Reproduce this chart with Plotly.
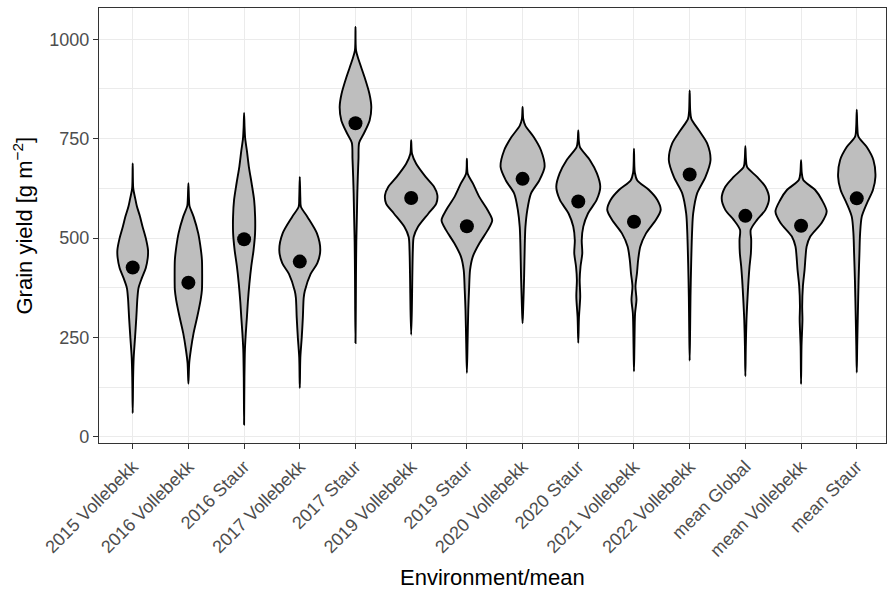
import plotly.graph_objects as go

# ---- data ----
environments = ["2015 Vollebekk", "2016 Vollebekk", "2016 Staur", "2017 Vollebekk",
                "2017 Staur", "2019 Vollebekk", "2019 Staur", "2020 Vollebekk",
                "2020 Staur", "2021 Vollebekk", "2022 Vollebekk", "mean Global",
                "mean Vollebekk", "mean Staur"]

mean_yield = [426, 388, 497, 441, 789, 601, 530, 649, 592, 541, 660, 556, 531, 600]

# violin profiles: yield values (g m-2) and scaled density half-width (category units)
v2015V_y = [60, 150, 200, 250, 300, 350, 375, 400, 425, 450, 470, 500, 530, 555, 580, 600, 625, 688]
v2015V_w = [0, 0.008, 0.018, 0.042, 0.065, 0.085, 0.105, 0.165, 0.235, 0.27, 0.275, 0.235, 0.175, 0.13, 0.075, 0.045, 0.01, 0]

v2016V_y = [134, 186, 220, 261, 303, 345, 370, 410, 445, 470, 512, 554, 581, 600, 638]
v2016V_w = [0, 0.015, 0.045, 0.093, 0.16, 0.22, 0.243, 0.247, 0.243, 0.225, 0.177, 0.093, 0.02, 0.01, 0]

v2016S_y = [31, 150, 220, 260, 300, 340, 385, 430, 470, 512, 554, 596, 638, 680, 720, 750, 780, 815]
v2016S_w = [0, 0.006, 0.015, 0.03, 0.05, 0.068, 0.095, 0.13, 0.17, 0.197, 0.198, 0.18, 0.135, 0.085, 0.05, 0.02, 0.008, 0]

v2017V_y = [123, 200, 250, 300, 350, 367, 410, 437, 470, 512, 554, 579, 600, 654]
v2017V_w = [0, 0.01, 0.035, 0.055, 0.07, 0.09, 0.195, 0.315, 0.368, 0.308, 0.135, 0.02, 0.01, 0]

v2017S_y = [236, 330, 410, 490, 530, 570, 612, 655, 700, 740, 763, 796, 830, 863, 905, 947, 972, 1031]
v2017S_w = [0, 0.006, 0.009, 0.015, 0.021, 0.027, 0.033, 0.042, 0.054, 0.066, 0.15, 0.254, 0.284, 0.25, 0.162, 0.06, 0.01, 0]

v2019V_y = [257, 320, 400, 470, 503, 528, 562, 587, 608, 629, 654, 687, 712, 746]
v2019V_w = [0, 0.012, 0.02, 0.03, 0.045, 0.12, 0.31, 0.45, 0.47, 0.41, 0.26, 0.09, 0.015, 0]

v2019S_y = [161, 236, 320, 370, 420, 453, 487, 520, 545, 570, 603, 637, 662, 700]
v2019S_w = [0, 0.012, 0.025, 0.039, 0.057, 0.105, 0.225, 0.374, 0.455, 0.374, 0.225, 0.11, 0.015, 0]

v2020V_y = [286, 320, 400, 487, 528, 570, 612, 645, 679, 721, 754, 783, 800, 830]
v2020V_w = [0, 0.01, 0.027, 0.04, 0.051, 0.084, 0.15, 0.3, 0.395, 0.33, 0.2, 0.05, 0.012, 0]

v2020S_y = [237, 300, 353, 395, 428, 462, 495, 529, 562, 596, 629, 663, 696, 729, 745, 771]
v2020S_w = [0, 0.012, 0.035, 0.025, 0.04, 0.072, 0.062, 0.09, 0.174, 0.33, 0.395, 0.335, 0.21, 0.03, 0.01, 0]

v2021V_y = [165, 230, 311, 345, 378, 412, 445, 479, 512, 546, 571, 596, 621, 645, 665, 725]
v2021V_w = [0, 0.008, 0.02, 0.045, 0.027, 0.054, 0.075, 0.114, 0.216, 0.395, 0.48, 0.42, 0.27, 0.06, 0.015, 0]

v2022V_y = [192, 269, 353, 437, 521, 562, 613, 654, 696, 738, 771, 800, 820, 871]
v2022V_w = [0, 0.008, 0.015, 0.027, 0.045, 0.063, 0.135, 0.284, 0.374, 0.314, 0.165, 0.03, 0.01, 0]

vmeanG_y = [153, 228, 295, 353, 395, 429, 462, 496, 521, 546, 571, 600, 629, 654, 679, 700, 731]
vmeanG_w = [0, 0.008, 0.02, 0.04, 0.057, 0.075, 0.099, 0.105, 0.096, 0.21, 0.36, 0.425, 0.36, 0.21, 0.03, 0.01, 0]

vmeanV_y = [133, 228, 295, 329, 379, 420, 454, 479, 504, 538, 567, 596, 621, 646, 665, 696]
vmeanV_w = [0, 0.008, 0.025, 0.02, 0.033, 0.063, 0.081, 0.1, 0.165, 0.368, 0.46, 0.374, 0.254, 0.04, 0.012, 0]

vmeanS_y = [162, 228, 311, 395, 462, 512, 554, 587, 621, 654, 696, 729, 755, 780, 823]
vmeanS_w = [0, 0.008, 0.02, 0.033, 0.048, 0.06, 0.09, 0.18, 0.29, 0.335, 0.3, 0.18, 0.03, 0.01, 0]

violin_y = [v2015V_y, v2016V_y, v2016S_y, v2017V_y, v2017S_y, v2019V_y, v2019S_y,
            v2020V_y, v2020S_y, v2021V_y, v2022V_y, vmeanG_y, vmeanV_y, vmeanS_y]
violin_w = [v2015V_w, v2016V_w, v2016S_w, v2017V_w, v2017S_w, v2019V_w, v2019S_w,
            v2020V_w, v2020S_w, v2021V_w, v2022V_w, vmeanG_w, vmeanV_w, vmeanS_w]

y_ticks = [0, 250, 500, 750, 1000]
y_minor = [125, 375, 625, 875]

x_title = "Environment/mean"
y_title = "Grain yield [g m<sup>\u22122</sup>]"

# ---- figure ----
fig = go.Figure()
positions = list(range(1, len(environments) + 1))

for pos, ys, ws in zip(positions, violin_y, violin_w):
    xs_right = [pos + w for w in ws]
    xs_left = [pos - w for w in ws[::-1]][1:]
    ys_left = ys[::-1][1:]
    fig.add_trace(go.Scatter(
        x=xs_right + xs_left, y=list(ys) + ys_left,
        mode="lines", fill="toself", fillcolor="#BEBEBE",
        line=dict(color="black", width=1.9, shape="spline", smoothing=0.8),
        hoverinfo="skip", showlegend=False))

fig.add_trace(go.Scatter(
    x=positions, y=mean_yield, mode="markers",
    marker=dict(color="black", size=14, line=dict(width=0)),
    showlegend=False))

axis_common = dict(
    showline=True, linecolor="#333333", linewidth=1.1, mirror=True,
    ticks="outside", ticklen=5, tickwidth=1.1, tickcolor="#333333",
    tickfont=dict(family="Liberation Sans, Arial, sans-serif", size=18, color="#4D4D4D"),
    gridcolor="#EBEBEB", gridwidth=1.3, zeroline=False, automargin=False,
)

fig.update_layout(
    width=887, height=589, autosize=False,
    margin=dict(l=99, r=1, t=8, b=146),
    paper_bgcolor="white", plot_bgcolor="white",
    font=dict(family="Liberation Sans, Arial, sans-serif", color="black"),
    xaxis=dict(
        range=[0.395, 14.525], tickmode="array", tickvals=positions, ticktext=environments,
        tickangle=-45, showgrid=True, **axis_common),
    yaxis=dict(
        range=[-15.1, 1078.6], tickmode="array", tickvals=y_ticks, showgrid=True,
        minor=dict(tickmode="array", tickvals=y_minor, showgrid=True,
                   gridcolor="#EBEBEB", gridwidth=0.8, ticks=""),
        **axis_common),
    annotations=[
        dict(text=x_title, xref="paper", yref="paper", x=0.5, y=-0.3103,
             xanchor="center", yanchor="middle", showarrow=False,
             font=dict(size=22, color="black")),
        dict(text=y_title, xref="paper", yref="paper", x=-0.0978, y=0.5,
             xanchor="center", yanchor="middle", showarrow=False, textangle=-90,
             font=dict(size=22, color="black")),
    ],
)

fig.write_html("out.html")
